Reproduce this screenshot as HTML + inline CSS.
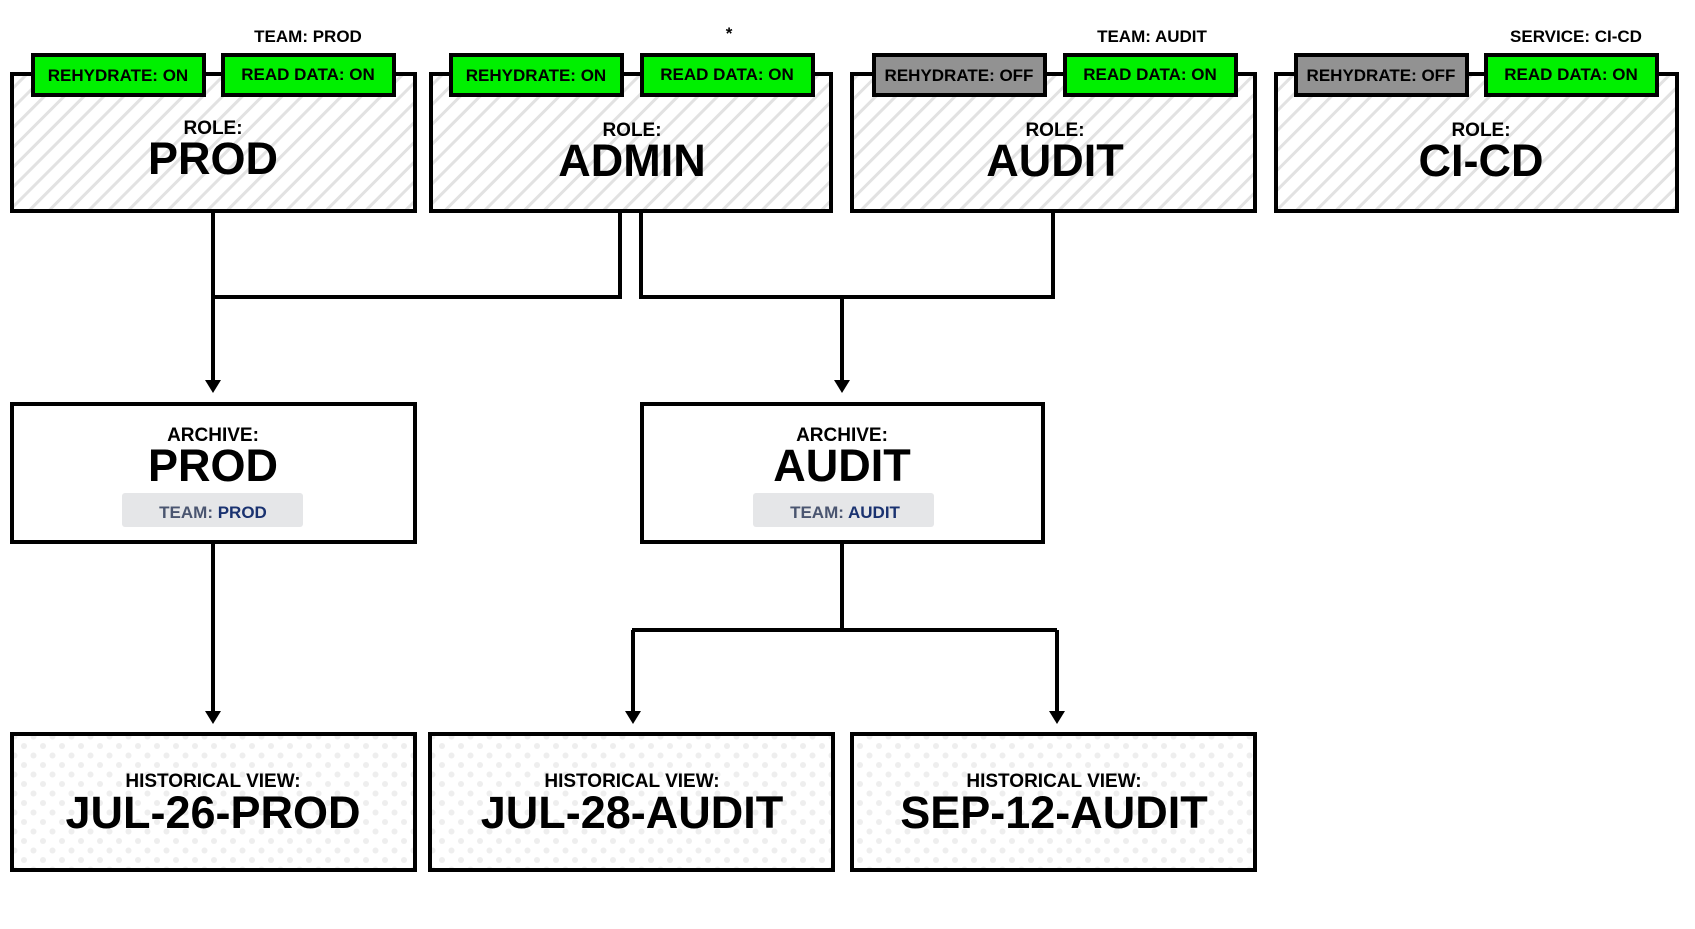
<!DOCTYPE html>
<html><head><meta charset="utf-8"><style>
html,body{margin:0;padding:0;background:#fff;}
svg{display:block;font-family:"Liberation Sans",sans-serif;font-weight:bold;}
</style></head><body>
<svg width="1695" height="929" viewBox="0 0 1695 929" xmlns="http://www.w3.org/2000/svg">
<defs>
<pattern id="hatch" width="14" height="14" patternUnits="userSpaceOnUse" patternTransform="rotate(45)">
<rect width="14" height="14" fill="#fff"/><rect x="0" y="0" width="3" height="14" fill="#e2e2e2"/>
</pattern>
<pattern id="dots" width="19" height="19" patternUnits="userSpaceOnUse">
<rect width="19" height="19" fill="#fff"/><circle cx="5" cy="5" r="3" fill="#eeeeee"/><circle cx="14.5" cy="14.5" r="3" fill="#eeeeee"/>
</pattern>
</defs>
<g stroke="#000" stroke-width="4" fill="none">
<path d="M213 211 V380"/>
<path d="M620 211 V297 H213"/>
<path d="M641 211 V297 H1053 V211"/>
<path d="M842 297 V380"/>
<path d="M213 542 V712"/>
<path d="M842 542 V630 M632 630 H1057 M633 630 V712 M1057 630 V712"/>
</g>
<g fill="#000">
<polygon points="205,380 221,380 213,393"/>
<polygon points="834,380 850,380 842,393"/>
<polygon points="205,711 221,711 213,724"/>
<polygon points="625,711 641,711 633,724"/>
<polygon points="1049,711 1065,711 1057,724"/>
</g>

<g stroke="#000" stroke-width="4">
<rect x="12" y="74" width="403" height="137" fill="url(#hatch)"/>
<rect x="431" y="74" width="400" height="137" fill="url(#hatch)"/>
<rect x="852" y="74" width="403" height="137" fill="url(#hatch)"/>
<rect x="1276" y="74" width="401" height="137" fill="url(#hatch)"/>
<rect x="33" y="55" width="171" height="40" fill="#00f000"/>
<rect x="223" y="55" width="171" height="40" fill="#00f000"/>
<rect x="451" y="55" width="171" height="40" fill="#00f000"/>
<rect x="642" y="55" width="171" height="40" fill="#00f000"/>
<rect x="874" y="55" width="171" height="40" fill="#929292"/>
<rect x="1065" y="55" width="171" height="40" fill="#00f000"/>
<rect x="1296" y="55" width="171" height="40" fill="#929292"/>
<rect x="1486" y="55" width="171" height="40" fill="#00f000"/>
</g>
<g font-size="17" text-anchor="middle" fill="#000">
<text x="118" y="81">REHYDRATE: ON</text>
<text x="308" y="80">READ DATA: ON</text>
<text x="536" y="81">REHYDRATE: ON</text>
<text x="727" y="80">READ DATA: ON</text>
<text x="959" y="81">REHYDRATE: OFF</text>
<text x="1150" y="80">READ DATA: ON</text>
<text x="1381" y="81">REHYDRATE: OFF</text>
<text x="1571" y="80">READ DATA: ON</text>
<text x="308" y="42">TEAM: PROD</text>
<text x="729" y="39">*</text>
<text x="1152" y="42">TEAM: AUDIT</text>
<text x="1576" y="42">SERVICE: CI-CD</text>
</g>
<g text-anchor="middle" fill="#000">
<text x="213" y="134" font-size="19">ROLE:</text>
<text x="213" y="174" font-size="45">PROD</text>
<text x="632" y="136" font-size="19">ROLE:</text>
<text x="632" y="176" font-size="45">ADMIN</text>
<text x="1055" y="136" font-size="19">ROLE:</text>
<text x="1055" y="176" font-size="45">AUDIT</text>
<text x="1481" y="136" font-size="19">ROLE:</text>
<text x="1481" y="176" font-size="45">CI-CD</text>
</g>

<g stroke="#000" stroke-width="4" fill="#fff">
<rect x="12" y="404" width="403" height="138"/>
<rect x="642" y="404" width="401" height="138"/>
</g>
<rect x="122" y="493" width="181" height="34" rx="3" fill="#e5e6e8"/>
<rect x="753" y="493" width="181" height="34" rx="3" fill="#e5e6e8"/>
<g text-anchor="middle">
<text x="213" y="441" font-size="19">ARCHIVE:</text>
<text x="213" y="481" font-size="45">PROD</text>
<text x="213" y="518" font-size="17" fill="#4a5570">TEAM: <tspan fill="#1a3270">PROD</tspan></text>
<text x="842" y="441" font-size="19">ARCHIVE:</text>
<text x="842" y="481" font-size="45">AUDIT</text>
<text x="845" y="518" font-size="17" fill="#4a5570">TEAM: <tspan fill="#1a3270">AUDIT</tspan></text>
</g>

<g stroke="#000" stroke-width="4" fill="url(#dots)">
<rect x="12" y="734" width="403" height="136"/>
<rect x="430" y="734" width="403" height="136"/>
<rect x="852" y="734" width="403" height="136"/>
</g>
<g text-anchor="middle">
<text x="213" y="787" font-size="19">HISTORICAL VIEW:</text>
<text x="213" y="828" font-size="45">JUL-26-PROD</text>
<text x="632" y="787" font-size="19">HISTORICAL VIEW:</text>
<text x="632" y="828" font-size="45">JUL-28-AUDIT</text>
<text x="1054" y="787" font-size="19">HISTORICAL VIEW:</text>
<text x="1054" y="828" font-size="45">SEP-12-AUDIT</text>
</g>
</svg>
</body></html>
